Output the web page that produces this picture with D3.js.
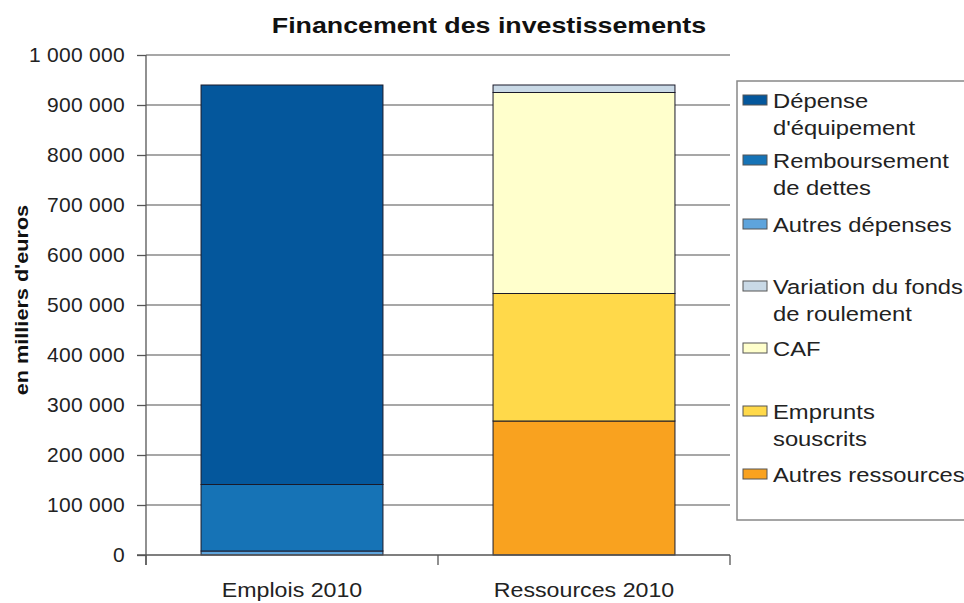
<!DOCTYPE html>
<html><head><meta charset="utf-8">
<script src="https://cdn.jsdelivr.net/npm/d3@7"></script>
<style>body{margin:0;background:#fff}svg{display:block;font-family:"Liberation Sans",Arial,sans-serif}</style>
</head><body><svg id="c" width="964" height="603"></svg>
<script>
const categories = ["Emplois 2010", "Ressources 2010"];
const seriesNames = ["Autres dépenses", "Remboursement de dettes", "Dépense d'équipement",
  "Autres ressources", "Emprunts souscrits", "CAF", "Variation du fonds de roulement"];
const emploisValues = [8000, 133000, 799000, 0, 0, 0, 0];
const ressourcesValues = [0, 0, 0, 268000, 255000, 402000, 15000];
const seriesColors = ["#5ea4dc", "#1673b6", "#04579c", "#f9a21f", "#ffd94a", "#ffffcc", "#c9d9e6"];
const legendOrder = [
  ["Dépense", "d'équipement"], ["Remboursement", "de dettes"], ["Autres dépenses"],
  ["Variation du fonds", "de roulement"], ["CAF"], ["Emprunts", "souscrits"], ["Autres ressources"]];
const legendSeries = [2, 1, 0, 6, 5, 4, 3];
const yTicks = [0, 100000, 200000, 300000, 400000, 500000, 600000, 700000, 800000, 900000, 1000000];

const svg = d3.select("#c");
const m = {l: 146, r: 730, t: 55, b: 555};
const x = d3.scaleBand().domain(categories).range([m.l, m.r]).paddingInner(0.377).paddingOuter(0.1885);
const y = d3.scaleLinear().domain([0, 1000000]).range([m.b, m.t]);
const fmt = v => d3.format(",")(v).replace(/,/g, " ");
const FONT = "Liberation Sans, Arial, sans-serif";

// gridlines
svg.append("g").selectAll("line").data(yTicks.slice(1)).join("line")
  .attr("x1", m.l).attr("x2", m.r).attr("y1", d => y(d)).attr("y2", d => y(d))
  .attr("stroke", "#8a8a8a").attr("stroke-width", 1.5);

// stacks
const rows = categories.map((c, i) => {
  const o = {cat: c};
  seriesNames.forEach((s, j) => o[s] = (i === 0 ? emploisValues : ressourcesValues)[j]);
  return o;
});
const stack = d3.stack().keys(seriesNames)(rows);
const g = svg.append("g");
stack.forEach((layer, j) => {
  g.selectAll(null).data(layer.filter(d => d[1] - d[0] > 0)).join("rect")
    .attr("x", d => x(d.data.cat)).attr("width", x.bandwidth())
    .attr("y", d => y(d[1])).attr("height", d => y(d[0]) - y(d[1]))
    .attr("fill", seriesColors[j]).attr("stroke", "#1a1a2a").attr("stroke-width", 1);
});

// y axis
const ya = svg.append("g").attr("transform", `translate(${m.l},0)`)
  .call(d3.axisLeft(y).tickValues(yTicks).tickFormat(fmt).tickSize(9).tickPadding(12));
ya.select(".domain").attr("stroke", "#555").attr("stroke-width", 1.3).attr("d", `M0,${m.t}V${m.b + 10}`);
ya.selectAll(".tick line").attr("stroke", "#555").attr("stroke-width", 1.3);
ya.selectAll("text").attr("font-size", 21).attr("fill", "#222").attr("font-family", FONT)
  .attr("dy", "0.33em").attr("letter-spacing", 0.3);

// x axis
const xa = svg.append("g").attr("transform", `translate(0,${m.b})`)
  .call(d3.axisBottom(x).tickSize(0).tickPadding(0));
xa.select(".domain").attr("stroke", "#555").attr("stroke-width", 1.3).attr("d", `M${m.l - 9},0H${m.r}`);
xa.selectAll("text").attr("font-size", 20).attr("fill", "#222").attr("font-family", FONT)
  .attr("dy", null).attr("y", 42).attr("transform", "scale(1.16,1)");
svg.append("g").selectAll("line").data([m.l, m.l + (m.r - m.l) / 2, m.r]).join("line")
  .attr("x1", d => d).attr("x2", d => d).attr("y1", m.b).attr("y2", m.b + 10)
  .attr("stroke", "#555").attr("stroke-width", 1.3);

// title
svg.append("text").attr("transform", "translate(489,33) scale(1.19,1)").attr("text-anchor", "middle")
  .attr("font-size", 22.5).attr("font-weight", "bold").attr("fill", "#111")
  .text("Financement des investissements");
// y label
svg.append("text").attr("transform", "translate(28,300) rotate(-90) scale(1.17,1)").attr("text-anchor", "middle")
  .attr("font-size", 18.5).attr("font-weight", "bold").attr("fill", "#111").text("en milliers d'euros");

// legend
svg.append("rect").attr("x", 737).attr("y", 81).attr("width", 240).attr("height", 439)
  .attr("fill", "#fff").attr("stroke", "#888").attr("stroke-width", 1.5);
const legBase = [108, 168, 232, 294, 356, 419, 482];
const lg = svg.append("g");
legendOrder.forEach((lines, i) => {
  const yy = legBase[i];
  lg.append("rect").attr("x", 743).attr("y", yy - 13).attr("width", 24).attr("height", 10)
    .attr("fill", seriesColors[legendSeries[i]]).attr("stroke", "#555").attr("stroke-width", 1);
  lines.forEach((t, k) => {
    lg.append("text").attr("transform", `translate(773,${yy + k * 27}) scale(1.22,1)`)
      .attr("font-size", 19.5).attr("fill", "#222").text(t);
  });
});
</script></body></html>
